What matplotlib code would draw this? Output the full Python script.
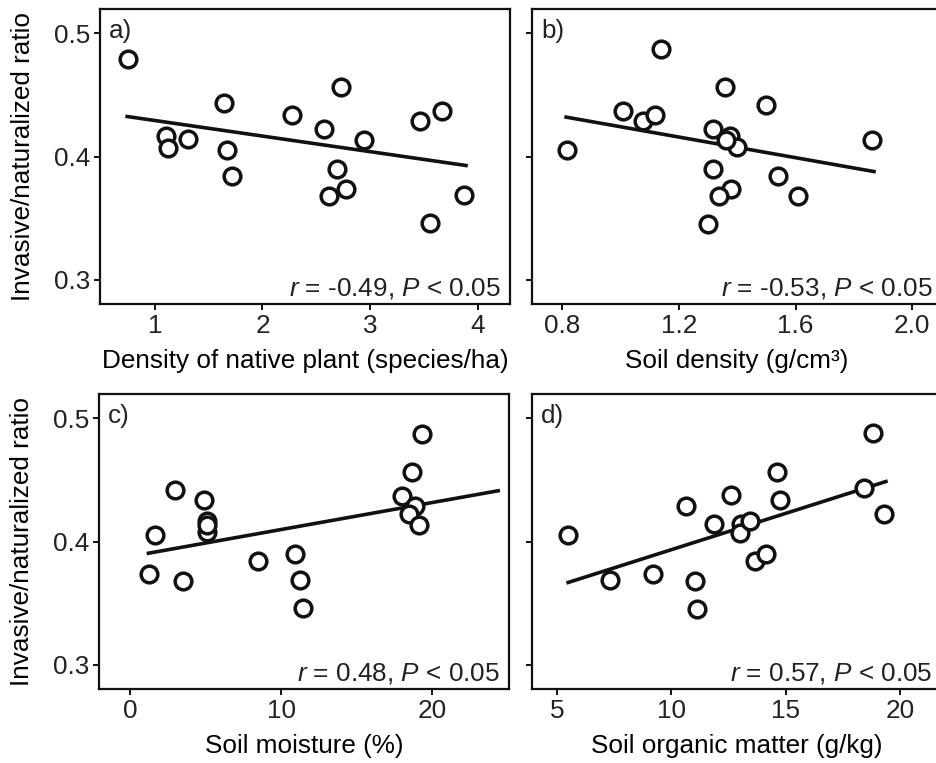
import matplotlib
matplotlib.use("Agg")
import matplotlib.pyplot as plt

plt.rcParams['font.family'] = ['Liberation Sans', 'DejaVu Sans']
plt.rcParams['mathtext.fontset'] = 'custom'
plt.rcParams['mathtext.rm'] = 'Liberation Sans'
plt.rcParams['mathtext.it'] = 'Liberation Sans:italic'

# ratio of invasive to naturalized species
ratio_a = [0.479, 0.417, 0.407, 0.414, 0.443, 0.405, 0.384, 0.434, 0.422,
           0.456, 0.390, 0.374, 0.368, 0.413, 0.429, 0.437, 0.346, 0.369]
native_density = [0.75, 1.10, 1.12, 1.31, 1.64, 1.67, 1.72, 2.27, 2.57,
                  2.73, 2.69, 2.78, 2.62, 2.94, 3.46, 3.67, 3.56, 3.87]

ratio_b = [0.405, 0.437, 0.429, 0.434, 0.487, 0.456, 0.422, 0.417, 0.408,
           0.413, 0.442, 0.413, 0.390, 0.384, 0.374, 0.368, 0.368, 0.345]
soil_density = [0.818, 1.008, 1.079, 1.119, 1.139, 1.358, 1.318, 1.376, 1.398,
                1.362, 1.499, 1.861, 1.318, 1.541, 1.379, 1.339, 1.610, 1.299]

ratio_c = [0.405, 0.374, 0.442, 0.368, 0.434, 0.417, 0.408, 0.384, 0.390,
           0.369, 0.346, 0.487, 0.456, 0.437, 0.429, 0.422, 0.413, 0.413]
soil_moisture = [1.65, 1.26, 2.97, 3.48, 4.89, 5.11, 5.07, 8.48, 10.95,
                 11.23, 11.45, 19.38, 18.66, 18.0, 18.9, 18.46, 19.16, 5.07]

ratio_d = [0.405, 0.369, 0.374, 0.429, 0.368, 0.345, 0.414, 0.438, 0.414,
           0.407, 0.417, 0.384, 0.390, 0.456, 0.434, 0.443, 0.488, 0.422]
organic_matter = [5.49, 7.31, 9.2, 10.63, 11.05, 11.14, 11.85, 12.62, 13.06,
                  13.01, 13.45, 13.64, 14.15, 14.61, 14.73, 18.41, 18.8, 19.31]

# fitted lines (end points as drawn in the figure)
fit_a = ([0.742, 3.891], [0.4324, 0.3927])
fit_b = ([0.814, 1.869], [0.4319, 0.3878])
fit_c = ([1.21, 24.4], [0.3905, 0.4411])
fit_d = ([5.49, 19.38], [0.3668, 0.4486])

labels = ['a)', 'b)', 'c)', 'd)']
xlabels = ['Density of native plant (species/ha)', 'Soil density (g/cm\u00b3)',
           'Soil moisture (%)', 'Soil organic matter (g/kg)']
stats = [r'$r$ = -0.49, $P$ < 0.05', r'$r$ = -0.53, $P$ < 0.05',
         r'$r$ = 0.48, $P$ < 0.05', r'$r$ = 0.57, $P$ < 0.05']
xticks = [[1, 2, 3, 4], [0.8, 1.2, 1.6, 2.0], [0, 10, 20], [5, 10, 15, 20]]
xticklabels = [['1', '2', '3', '4'], ['0.8', '1.2', '1.6', '2.0'],
               ['0', '10', '20'], ['5', '10', '15', '20']]
xlims = [(0.49, 4.3), (0.697, 2.102), (-2.07, 25.12), (3.91, 21.83)]

xs = [native_density, soil_density, soil_moisture, organic_matter]
ys = [ratio_a, ratio_b, ratio_c, ratio_d]
fits = [fit_a, fit_b, fit_c, fit_d]

W, H = 937, 763
fig = plt.figure(figsize=(W / 100, H / 100), dpi=100)
boxes = [(100, 9), (532, 9), (99, 394), (532, 394)]
aw, ah = 410, 295

fs = 18.8
for i in range(4):
    left, top = boxes[i]
    ax = fig.add_axes([left / W, (H - top - ah) / H, aw / W, ah / H])
    ax.plot(fits[i][0], fits[i][1], color='#111111', lw=2.6, zorder=2)
    ax.plot(xs[i], ys[i], 'o', ms=12, mfc='white', mec='#111111', mew=2.5,
            zorder=3, clip_on=False)
    ax.set_xlim(*xlims[i])
    ax.set_ylim(0.2805, 0.5195)
    ax.set_xticks(xticks[i])
    ax.set_xticklabels(xticklabels[i])
    ax.set_yticks([0.3, 0.4, 0.5])
    if i % 2 == 0:
        ax.set_yticklabels(['0.3', '0.4', '0.5'])
        ax.set_ylabel('Invasive/naturalized ratio', fontsize=fs)
        ax.yaxis.set_label_coords(-0.158, 0.5)
    else:
        ax.set_yticklabels([])
    ax.set_xlabel(xlabels[i], fontsize=fs, labelpad=8)
    ax.tick_params(direction='out', length=4, width=1.4, labelsize=fs,
                   pad=3, color='#111111', labelcolor='#222222')
    for s in ax.spines.values():
        s.set_linewidth(1.6)
        s.set_color('#111111')
    ax.text(0.022, 0.965, labels[i], transform=ax.transAxes, fontsize=fs,
            ha='left', va='top', color='#222222')
    ax.text(0.977, 0.03, stats[i], transform=ax.transAxes, fontsize=fs,
            ha='right', va='baseline', color='#222222')

fig.savefig('out.png', dpi=100)
